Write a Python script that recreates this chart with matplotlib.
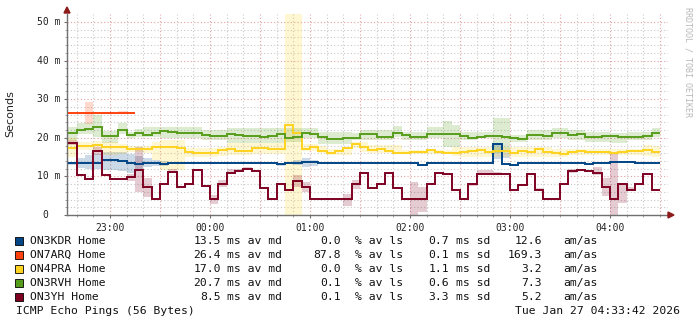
import numpy as np
import matplotlib
matplotlib.use('Agg')
import matplotlib.pyplot as plt
from matplotlib.patches import Polygon, Rectangle

# ---------------- data ----------------
start_hour = 22 + 35 / 60.0          # first 5-minute bin starts at 22:35
bin_hours = 5 / 60.0

hosts = ["ON3KDR Home", "ON7ARQ Home", "ON4PRA Home", "ON3RVH Home", "ON3YH Home"]
colors = ["#004586", "#ff420e", "#ffd320", "#579d1c", "#7e0021"]

kdr = [13.4, 13.4, 13.5, 13.5, 14.2, 14.2, 13.9, 13.6, 13.1, 13.4,
       13.6, 13.2, 13.6, 13.4, 13.4, 13.4, 13.4, 13.5, 13.5, 13.5,
       13.5, 13.5, 13.4, 13.6, 13.4, 13.2, 13.4, 13.6, 13.8, 13.8,
       13.4, 13.4, 13.4, 13.4, 13.4, 13.6, 13.4, 13.4, 13.4, 13.4,
       13.4, 13.4, 12.9, 13.4, 13.6, 13.6, 13.4, 13.4, 13.4, 13.4,
       13.4, 18.3, 13.2, 13.0, 13.4, 13.6, 13.6, 13.4, 13.4, 13.6,
       13.4, 13.6, 13.1, 13.4, 13.6, 13.8, 13.8, 13.8, 13.6, 13.4,
       13.4]
kdr_lo = [13.0, 12.3, 12.0, 11.9, 11.6, 11.6, 11.3, 10.9, 11.9, 12.5, 12.6, 12.8]
kdr_hi = [13.8, 14.8, 15.5, 15.9, 16.3, 16.3, 16.3, 15.9, 15.2, 14.7, 14.2, 14.0]

arq = [26.4, 26.4, 26.4, 26.4, 26.4, 26.4, 26.4, 26.4]
arq_lo = [26.4, 26.4, 23.5, 26.4, 26.4, 26.4, 26.3, 26.4]
arq_hi = [26.4, 26.4, 29.4, 26.4, 26.4, 26.4, 26.9, 26.4]

pra = [17.4, 17.9, 17.9, 18.1, 17.5, 17.5, 17.7, 17.1, 17.1, 17.1,
       17.6, 17.6, 17.6, 17.4, 16.4, 16.1, 16.1, 16.1, 16.8, 17.1,
       16.7, 16.7, 17.3, 17.4, 17.0, 17.0, 23.2, 21.3, 17.0, 17.5,
       16.6, 16.1, 16.7, 17.3, 18.3, 17.5, 16.8, 17.0, 16.7, 16.1,
       16.0, 16.2, 16.2, 16.8, 16.4, 16.1, 16.1, 16.2, 16.7, 16.8,
       16.4, 16.5, 16.5, 16.1, 16.5, 16.2, 17.0, 16.3, 16.0, 15.7,
       16.4, 16.7, 16.4, 16.2, 16.4, 16.1, 16.4, 16.5, 16.5, 16.8,
       16.2]
pra_lo = [15.0, 16.8, 16.8, 16.8, 15.5, 15.5, 15.8, 16.4, 16.4, 16.0,
          14.2, 11.7, 11.7, 11.7, 15.1, 15.1, 15.1, 15.1, 15.3, 15.5,
          15.5, 15.5, 15.8, 15.8, 15.8, 15.8, 23.2, 21.3, 16.5, 16.5,
          16.0, 15.6, 15.6, 15.6, 17.4, 16.4, 16.0, 16.0, 16.0, 16.0,
          15.8, 15.8, 15.8, 15.8, 15.8, 15.8, 15.3, 15.1, 15.1, 15.1,
          15.1, 15.1, 15.1, 15.1, 15.1, 15.1, 15.1, 15.1, 15.1, 15.1,
          15.6, 15.6, 15.6, 15.6, 15.6, 15.6, 15.6, 15.6, 15.6, 15.3,
          15.0]
pra_hi = [19.9, 19.0, 19.0, 19.2, 19.0, 19.0, 18.5, 18.0, 18.0, 18.0,
          19.0, 19.4, 19.4, 19.4, 17.3, 17.3, 17.3, 17.3, 17.6, 18.6,
          18.6, 18.6, 18.6, 18.6, 18.6, 18.6, 23.2, 21.3, 18.4, 18.4,
          18.0, 17.2, 17.2, 17.5, 18.8, 19.0, 18.1, 18.1, 18.1, 18.1,
          16.8, 16.8, 16.8, 16.8, 16.8, 16.8, 17.5, 17.7, 17.7, 17.7,
          17.7, 17.7, 17.7, 17.7, 17.7, 17.7, 17.7, 17.7, 17.0, 17.0,
          17.2, 17.2, 17.2, 17.2, 17.2, 17.2, 17.2, 17.2, 17.2, 18.1,
          17.8]
pra_loss_bins = [26, 27]

rvh = [21.3, 22.0, 22.3, 22.9, 20.4, 20.4, 21.9, 20.7, 21.3, 20.7,
       21.2, 21.7, 21.4, 21.3, 21.3, 21.3, 20.7, 20.5, 20.5, 20.9,
       20.7, 20.5, 20.5, 20.1, 20.5, 20.9, 19.9, 20.3, 21.2, 20.9,
       20.1, 19.7, 19.7, 19.9, 19.9, 20.9, 20.9, 20.3, 20.3, 21.3,
       20.7, 20.1, 20.1, 20.9, 20.9, 20.9, 20.9, 20.5, 20.0, 20.3,
       20.5, 20.5, 20.3, 19.9, 19.6, 20.7, 20.7, 20.4, 21.2, 21.2,
       20.7, 21.0, 20.3, 20.3, 20.5, 20.5, 20.1, 20.3, 20.3, 20.5,
       21.3]
rvh_lo = [19.4, 21.0, 21.0, 20.3, 18.6, 18.6, 21.0, 20.0, 20.3, 20.3,
          20.3, 19.9, 19.9, 19.9, 19.9, 19.9, 19.4, 19.4, 19.4, 18.7,
          18.7, 18.7, 18.7, 18.7, 18.7, 18.7, 19.0, 19.0, 19.9, 19.9,
          18.3, 18.3, 18.3, 18.3, 19.4, 19.4, 19.4, 19.4, 19.4, 20.3,
          19.4, 19.4, 19.4, 19.9, 19.9, 17.7, 17.7, 19.4, 19.4, 19.9,
          19.9, 16.0, 16.0, 19.0, 19.0, 19.4, 19.4, 19.4, 19.9, 19.9,
          19.4, 19.4, 19.0, 19.0, 19.0, 18.6, 18.6, 19.4, 19.4, 19.4,
          20.3]
rvh_hi = [22.9, 23.9, 23.9, 25.9, 21.8, 21.8, 23.8, 21.5, 22.4, 22.9,
          22.9, 22.9, 22.9, 22.9, 22.9, 22.9, 22.0, 22.0, 22.0, 22.5,
          22.5, 22.5, 22.5, 22.5, 22.5, 22.5, 22.5, 22.5, 22.5, 22.5,
          21.4, 21.4, 21.4, 21.4, 21.2, 22.0, 22.0, 22.0, 22.0, 23.1,
          21.6, 21.6, 21.6, 22.9, 22.9, 24.4, 23.3, 21.6, 21.6, 21.6,
          21.6, 25.0, 25.0, 20.7, 20.7, 22.0, 22.0, 22.0, 22.5, 22.5,
          22.0, 22.0, 21.6, 21.6, 21.6, 21.2, 21.2, 21.6, 21.6, 21.6,
          22.5]

yh = [18.7, 10.4, 9.2, 16.7, 10.4, 9.2, 9.2, 9.9, 11.7, 7.2,
      4.1, 8.0, 11.1, 7.2, 8.0, 11.6, 7.4, 4.1, 8.0, 10.8,
      11.3, 11.9, 11.3, 6.9, 4.1, 8.0, 6.6, 8.7, 7.2, 4.1,
      4.1, 4.1, 4.1, 4.1, 8.0, 10.9, 6.9, 8.0, 10.9, 6.9,
      4.1, 4.1, 4.1, 8.0, 10.9, 10.6, 6.6, 4.1, 8.0, 10.5,
      10.5, 10.5, 10.5, 6.6, 7.8, 10.5, 6.6, 4.1, 4.1, 8.0,
      11.3, 11.7, 11.3, 11.0, 7.2, 4.1, 8.0, 6.6, 8.0, 10.5,
      6.6]
# smoke ranges for ON3YH: bin -> (low, high)
yh_smoke = {0: (18.2, 19.5), 3: (15.5, 17.7), 7: (8.8, 10.6), 8: (6.0, 17.7),
            9: (4.7, 9.5), 12: (10.8, 11.8), 17: (2.9, 5.2), 18: (7.2, 9.1),
            19: (10.5, 11.8), 20: (11.2, 12.0), 21: (11.6, 12.5), 27: (7.2, 10.4),
            28: (6.0, 8.6), 33: (2.3, 5.4), 34: (6.7, 9.1), 41: (0.0, 8.6),
            42: (0.9, 7.2), 43: (7.8, 8.3), 48: (7.6, 8.3), 49: (10.5, 11.7),
            50: (10.5, 11.7), 51: (10.5, 11.2), 56: (6.4, 7.0), 60: (11.0, 11.8),
            63: (10.4, 12.5), 64: (4.9, 9.5), 65: (0.0, 16.0), 66: (3.0, 8.2),
            67: (6.6, 7.2)}
kdr_smoke_extra = {25: (12.8, 13.6), 27: (13.0, 14.2), 28: (12.4, 14.8),
                   29: (12.7, 14.3), 51: (14.5, 18.5), 52: (14.8, 16.0)}

hour_ticks = [23, 24, 25, 26, 27, 28]
hour_labels = ["23:00", "00:00", "01:00", "02:00", "03:00", "04:00"]
y_ticks = [0, 10, 20, 30, 40, 50]
y_labels = ["0", "10 m", "20 m", "30 m", "40 m", "50 m"]

legend_md = [13.5, 26.4, 17.0, 20.7, 8.5]
legend_ls = [0.0, 87.8, 0.0, 0.1, 0.1]
legend_sd = [0.7, 0.1, 1.1, 0.6, 3.3]
legend_amas = [12.6, 169.3, 3.2, 7.3, 5.2]

title_text = "ICMP Echo Pings (56 Bytes)"
date_text = "Tue Jan 27 04:33:42 2026"
credit_text = "RRDTOOL / TOBI OETIKER"

# ---------------- layout ----------------
W, H = 697, 325
fig = plt.figure(figsize=(W / 100, H / 100), dpi=100)
fig.patch.set_facecolor("white")

def fx(px):
    return px / W

def fy(py):
    return 1 - py / H

PX_PER_MS = 3.86
LEFT, RIGHT, BOTTOM = 67, 668, 215
YMAX = 52
top_px = BOTTOM - YMAX * PX_PER_MS
ax = fig.add_axes([fx(LEFT), fy(BOTTOM), (RIGHT - LEFT) / W, (BOTTOM - top_px) / H])
x0 = 24 - (210 - LEFT) / 100.0
x1 = x0 + (RIGHT - LEFT) / 100.0
ax.set_xlim(x0, x1)
ax.set_ylim(0, YMAX)
ax.set_facecolor("white")

# grid
minor_c = "#c8c8c8"
major_c = "#e6a0a0"
dots = (0, (1, 2))
for v in np.arange(2, 51, 2):
    if v % 10 == 0:
        continue
    ax.axhline(v, color=minor_c, lw=0.8, ls=dots, zorder=0.5)
for v in [10, 20, 30, 40, 50]:
    ax.axhline(v, color=major_c, lw=0.8, ls=dots, zorder=0.6)
t = np.ceil(x0 * 6) / 6
while t < x1 - 0.05:
    m = int(round(t * 60)) % 30
    ax.axvline(t, color=major_c if m == 0 else minor_c, lw=0.8, ls=dots,
               zorder=0.6 if m == 0 else 0.5)
    t += 1 / 6

n = len(kdr)
edges = start_hour + np.arange(n + 1) * bin_hours

def edges_for(k):
    return start_hour + np.arange(k + 1) * bin_hours

# yellow loss band
for b in pra_loss_bins:
    ax.axvspan(edges[b], edges[b + 1], color=colors[2], alpha=0.2, lw=0, zorder=0.8)

# smoke
kdr_lo_full = [v - 0.25 for v in kdr]
kdr_hi_full = [v + 0.25 for v in kdr]
for i in range(len(kdr_lo)):
    kdr_lo_full[i] = kdr_lo[i]
    kdr_hi_full[i] = kdr_hi[i]
for b, (lo, hi) in kdr_smoke_extra.items():
    kdr_lo_full[b] = lo
    kdr_hi_full[b] = hi
yh_lo = list(yh)
yh_hi = list(yh)
for b, (lo, hi) in yh_smoke.items():
    yh_lo[b] = lo
    yh_hi[b] = hi

smoke_sets = [
    (kdr_hi_full, kdr_lo_full, colors[0], n),
    (arq_hi, arq_lo, colors[1], len(arq)),
    (pra_hi, pra_lo, colors[2], n),
    (rvh_hi, rvh_lo, colors[3], n),
    (yh_hi, yh_lo, colors[4], n),
]
for hi, lo, c, k in smoke_sets:
    ax.stairs(np.array(hi), edges_for(k), baseline=np.array(lo), fill=True,
              color=c, alpha=0.2, lw=0, zorder=1)

# median lines
series = [kdr, arq, pra, rvh, yh]
for vals, c in zip(series, colors):
    ax.stairs(np.array(vals), edges_for(len(vals)), baseline=None, color=c,
              lw=1.4, zorder=3)

# axes styling
for s in ["top", "right"]:
    ax.spines[s].set_visible(False)
for s in ["left", "bottom"]:
    ax.spines[s].set_color("#707070")
    ax.spines[s].set_linewidth(1.0)
ax.set_xticks(hour_ticks)
ax.set_xticklabels(hour_labels, family="DejaVu Sans Mono", fontsize=7, color="#222222")
ax.set_xticks(np.arange(23 - 1 / 3, x1, 1 / 6), minor=True)
ax.set_yticks(y_ticks)
ax.set_yticklabels([])
ax.set_yticks(np.arange(2, 51, 2), minor=True)
ax.tick_params(axis="both", which="major", length=2.5, width=0.8, color="#707070", pad=3)
ax.tick_params(axis="both", which="minor", length=1.5, width=0.6, color="#909090")
for v, lab in zip(y_ticks, y_labels):
    py = BOTTOM - v * PX_PER_MS
    xr = 60 if v != 0 else 48
    fig.text(fx(xr), fy(py), lab, ha="right", va="center",
             family="DejaVu Sans Mono", fontsize=7, color="#222222")

# arrows
arrow_c = "#8e1b1b"
fig.add_artist(Polygon([(fx(64), fy(13)), (fx(70), fy(13)), (fx(67), fy(7))],
                       closed=True, color=arrow_c, transform=fig.transFigure))
fig.add_artist(Polygon([(fx(668), fy(212)), (fx(668), fy(218)), (fx(674), fy(215))],
                       closed=True, color=arrow_c, transform=fig.transFigure))

# y label & credit
fig.text(fx(10), fy(114), "Seconds", rotation=90, ha="center", va="center",
         family="DejaVu Sans", fontsize=8, color="#222222")
fig.text(fx(688), fy(62), credit_text, rotation=270, ha="center", va="center",
         family="DejaVu Sans Mono", fontsize=6, color="#b8b8b8")

# legend
mono = dict(family="DejaVu Sans Mono", fontsize=8.2, color="#111111", va="center")
row_y = [241, 255, 269, 283, 297]
for i in range(5):
    y = row_y[i]
    fig.add_artist(Rectangle((fx(15), fy(y + 4)), 8 / W, 8 / H, facecolor=colors[i],
                             edgecolor="black", lw=0.6, transform=fig.transFigure))
    fig.text(fx(30), fy(y), hosts[i], ha="left", **mono)
    fig.text(fx(221), fy(y), "%.1f" % legend_md[i], ha="right", **mono)
    fig.text(fx(227), fy(y), "ms av md", ha="left", **mono)
    fig.text(fx(341), fy(y), "%.1f" % legend_ls[i], ha="right", **mono)
    fig.text(fx(355), fy(y), "% av ls", ha="left", **mono)
    fig.text(fx(449), fy(y), "%.1f" % legend_sd[i], ha="right", **mono)
    fig.text(fx(456), fy(y), "ms sd", ha="left", **mono)
    fig.text(fx(542), fy(y), "%.1f" % legend_amas[i], ha="right", **mono)
    fig.text(fx(563), fy(y), "am/as", ha="left", **mono)
fig.text(fx(16), fy(311), title_text, ha="left", **mono)
fig.text(fx(680), fy(311), date_text, ha="right", **mono)

fig.savefig("out.png", dpi=100, facecolor="white")
